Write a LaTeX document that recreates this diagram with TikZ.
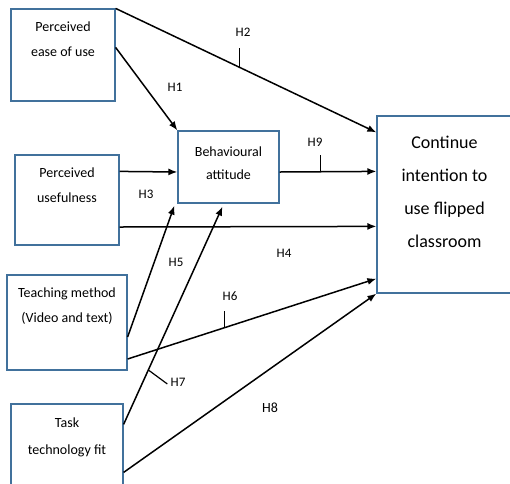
\documentclass[tikz,border=0pt]{standalone}
\usepackage{fontspec}
\setmainfont{Carlito}
\usetikzlibrary{arrows,arrows.meta}
\definecolor{boxblue}{RGB}{65,113,156}

\begin{document}
\begin{tikzpicture}[x=1pt,y=-1pt,
  box/.style={draw=boxblue,line width=1.2pt,inner sep=0pt},
  txt/.style={align=center,anchor=north,inner sep=0pt,font=\fontsize{14}{25}\selectfont},
  hyp/.style={inner sep=0pt,font=\fontsize{13}{15}\selectfont},
  link/.style={-{Latex[length=9pt,width=7pt]},line width=1.5pt},
  tick/.style={line width=1.2pt}]
\useasboundingbox (0,0) rectangle (510,483);
\clip (0,0) rectangle (510,483);
% the boxes
\node[box,minimum width=104pt,minimum height=92pt] (peou) at (63,55) {};
\node[box,minimum width=104pt,minimum height=90pt] (pu) at (67,200) {};
\node[box,minimum width=120pt,minimum height=95pt] (tm) at (67,322.5) {};
\node[box,minimum width=112pt,minimum height=90pt] (ttf) at (67,449) {};
\node[box,minimum width=101pt,minimum height=72pt] (ba) at (228.5,167) {};
\node[box,minimum width=140pt,minimum height=177pt] (ci) at (447,204.5) {};
% the texts in the boxes
\node[txt] (peou-t) at (63,22) {Perceived\\ease of use};
\node[txt] (pu-t) at (67,168) {Perceived\\usefulness};
\node[txt] (tm-t) at (67,288) {Teaching method\\(Video and text)};
\node[txt,font=\fontsize{14}{27}\selectfont] (ttf-t) at (67,418) {Task\\technology fit};
\node[txt,font=\fontsize{14}{23}\selectfont] (ba-t) at (228.5,147) {Behavioural\\attitude};
\node[txt,font=\fontsize{18}{33}\selectfont] (ci-t) at (444.5,136) {Continue\\intention to\\use flipped\\classroom};
% the paths
\draw[link] ([yshift=-39pt]peou.north east) -- (ba.north west);
\draw[link] (peou.north east) -- coordinate[pos=0.475] (t2) ([yshift=-17pt]ci.north west);
\draw[link] ([yshift=-17pt]pu.north east) -- ([yshift=-5pt]ba.west);
\draw[link] ([yshift=-27pt]pu.east) -- ([yshift=-111pt]ci.north west);
\draw[link] ([yshift=-14.5pt]tm.east) -- ([xshift=-3pt,yshift=-2pt]ba.south west);
\draw[link] ([yshift=-36.5pt]tm.east) -- coordinate[pos=0.39] (t6) ([yshift=15pt]ci.south west);
\draw[link] ([yshift=-21pt]ttf.north east) -- coordinate[pos=0.25] (t7) ([xshift=-6pt,yshift=-3pt]ba.south);
\draw[link] ([yshift=-69pt]ttf.north east) -- (ci.south west);
\draw[link] ([yshift=-5pt]ba.east) -- coordinate[pos=0.424] (t9) ([yshift=-56pt]ci.north west);
% the ticks
\draw[tick] (t2) -- ++(0,-19);
\draw[tick] (t6) -- ++(0,-17);
\draw[tick] (t7) -- ++(19,14);
\draw[tick] (t9) -- ++(0,-17);
% the labels
\node[hyp] (h1) at (175,87) {H1};
\node[hyp] (h2) at (243,32) {H2};
\node[hyp] (h3) at (146,194) {H3};
\node[hyp] (h4) at (284,253) {H4};
\node[hyp] (h5) at (176,262) {H5};
\node[hyp] (h6) at (230,296) {H6};
\node[hyp] (h7) at (178,382) {H7};
\node[hyp,font=\fontsize{14}{16}\selectfont] (h8) at (270,408) {H8};
\node[hyp] (h9) at (315,142) {H9};
\end{tikzpicture}
\end{document}
